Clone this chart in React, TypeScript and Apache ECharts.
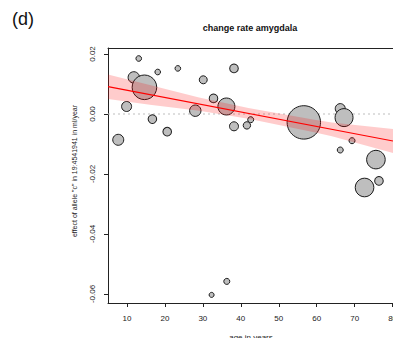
import React, { useEffect, useRef } from "react";
import * as echarts from "echarts";

// age in years of each cohort point
const ages = [7.7, 9.9, 11.8, 14.6, 13.1, 16.7, 18.1, 20.6, 23.4, 28.0, 30.1, 32.8, 36.2, 38.2, 38.2, 41.6, 42.6, 56.6, 66.2, 67.2, 69.3, 66.2, 75.6, 76.4, 72.6, 32.3, 36.3];
// effect of allele "c" (ml/year)
const effects = [-0.0086, 0.0025, 0.0122, 0.0089, 0.0185, -0.0017, 0.014, -0.0059, 0.0152, 0.0011, 0.0114, 0.0052, 0.0025, 0.0152, -0.0041, -0.0038, -0.0019, -0.0028, 0.0018, -0.0012, -0.0089, -0.012, -0.0152, -0.0223, -0.0245, -0.0603, -0.0558];
// relative weight of each point (bubble size)
const weights = [5.5, 5, 5.7, 12.3, 2.8, 4.3, 2.8, 4.3, 2.8, 5.7, 4, 4.3, 8.5, 4.3, 4.5, 3.7, 3, 16.7, 5, 9, 3, 3, 9.3, 4.3, 9.3, 2.5, 3];

// regression fit
const fitAges = [5, 80.1];
const fitValues = [0.0091, -0.009];

// confidence band read at several ages
const bandAges = [5, 16, 29, 42, 59, 64, 80.1];
const bandUpper = [0.0132, 0.0097, 0.0055, 0.002, -0.0018, -0.0028, -0.005];
const bandLower = [0.005, 0.0031, 0.0011, -0.0016, -0.006, -0.0074, -0.013];

const xTicks = [10, 20, 30, 40, 50, 60, 70, 80];
const yTicks = [-0.06, -0.04, -0.02, 0, 0.02];

const X_MIN = 5;
const X_MAX = 80.1;
const Y_MIN = -0.063;
const Y_MAX = 0.022;

const FONT = "'Liberation Sans', Arial, Helvetica, sans-serif";

export default function App() {
  const ref = useRef<HTMLDivElement>(null);

  useEffect(() => {
    document.body.style.margin = "0";
    if (!ref.current) return;
    const chart = echarts.init(ref.current, undefined, { renderer: "svg" });

    const scatterData = ages.map((a, i) => [a, effects[i], weights[i]]);

    const option: any = {
      animation: false,
      backgroundColor: "#ffffff",
      grid: { left: 108, top: 48, right: 0, bottom: 35, containLabel: false, outerBoundsMode: "none" },
      xAxis: [
        {
          type: "value",
          min: X_MIN,
          max: X_MAX,
          position: "bottom",
          axisLine: { show: true, onZero: false, lineStyle: { color: "#222", width: 1 } },
          axisTick: { show: true, length: 4, customValues: xTicks, lineStyle: { color: "#222" } },
          axisLabel: {
            customValues: xTicks,
            margin: 11,
            fontSize: 8,
            color: "#222",
            fontFamily: FONT,
            hideOverlap: false,
            formatter: (v: number) => String(v),
          },
          splitLine: { show: false },
        },
        {
          type: "value",
          min: X_MIN,
          max: X_MAX,
          position: "top",
          axisLine: { show: true, onZero: false, lineStyle: { color: "#222", width: 1 } },
          axisTick: { show: false },
          axisLabel: { show: false },
          splitLine: { show: false },
        },
      ],
      yAxis: {
        type: "value",
        min: Y_MIN,
        max: Y_MAX,
        axisLine: { show: true, onZero: false, lineStyle: { color: "#222", width: 1 } },
        axisTick: { show: true, length: 4, customValues: yTicks, lineStyle: { color: "#222" } },
        axisLabel: {
          customValues: yTicks,
          rotate: 90,
          margin: 12,
          fontSize: 8,
          color: "#222",
          fontFamily: FONT,
          formatter: (v: number) => v.toFixed(2),
        },
        splitLine: { show: false },
      },
      graphic: [
        {
          type: "text",
          left: 12,
          top: 10,
          style: { text: "(d)", fontSize: 18, fontFamily: FONT, fill: "#111" },
        },
        {
          type: "text",
          x: 250,
          y: 28,
          style: {
            text: "change rate amygdala",
            fontSize: 9,
            fontWeight: "bold",
            fontFamily: FONT,
            fill: "#111",
            textAlign: "center",
            textVerticalAlign: "middle",
          },
        },
        {
          type: "text",
          x: 74,
          y: 171,
          rotation: Math.PI / 2,
          style: {
            text: 'effect of allele "c" in 19:4541941 in ml/year',
            fontSize: 7,
            fontFamily: FONT,
            fill: "#222",
            textAlign: "center",
            textVerticalAlign: "middle",
          },
        },
        {
          type: "text",
          x: 251,
          y: 333,
          style: {
            text: "age in years",
            fontSize: 8,
            fontFamily: FONT,
            fill: "#222",
            textAlign: "center",
            textVerticalAlign: "top",
          },
        },
      ],
      series: [
        {
          type: "line",
          data: [
            [X_MIN, 0],
            [X_MAX, 0],
          ],
          symbol: "none",
          silent: true,
          z: 1,
          lineStyle: { color: "#bdbdbd", width: 1, type: [2, 3] },
        },
        {
          type: "scatter",
          data: scatterData,
          z: 2,
          symbolSize: (d: number[]) => d[2] * 2,
          itemStyle: { color: "#bebebe", borderColor: "#1a1a1a", borderWidth: 1, opacity: 1 },
        },
        {
          type: "custom",
          z: 3,
          clip: true,
          silent: true,
          data: bandAges.map((a, i) => [a, bandUpper[i], bandLower[i]]),
          encode: { x: 0, y: [1, 2] },
          renderItem: (params: any, api: any) => {
            if (params.dataIndex !== 0) return null;
            const pts: number[][] = [];
            for (let i = 0; i < bandAges.length; i++) pts.push(api.coord([bandAges[i], bandUpper[i]]));
            for (let i = bandAges.length - 1; i >= 0; i--) pts.push(api.coord([bandAges[i], bandLower[i]]));
            return {
              type: "polygon",
              shape: { points: pts },
              style: { fill: "rgba(255,0,0,0.2)", stroke: "none" },
            };
          },
        },
        {
          type: "line",
          data: fitAges.map((a, i) => [a, fitValues[i]]),
          symbol: "none",
          silent: true,
          z: 4,
          lineStyle: { color: "#ff0000", width: 1.2 },
        },
      ],
    };

    chart.setOption(option);
    return () => chart.dispose();
  }, []);

  return <div ref={ref} style={{ width: 393, height: 338 }} />;
}
